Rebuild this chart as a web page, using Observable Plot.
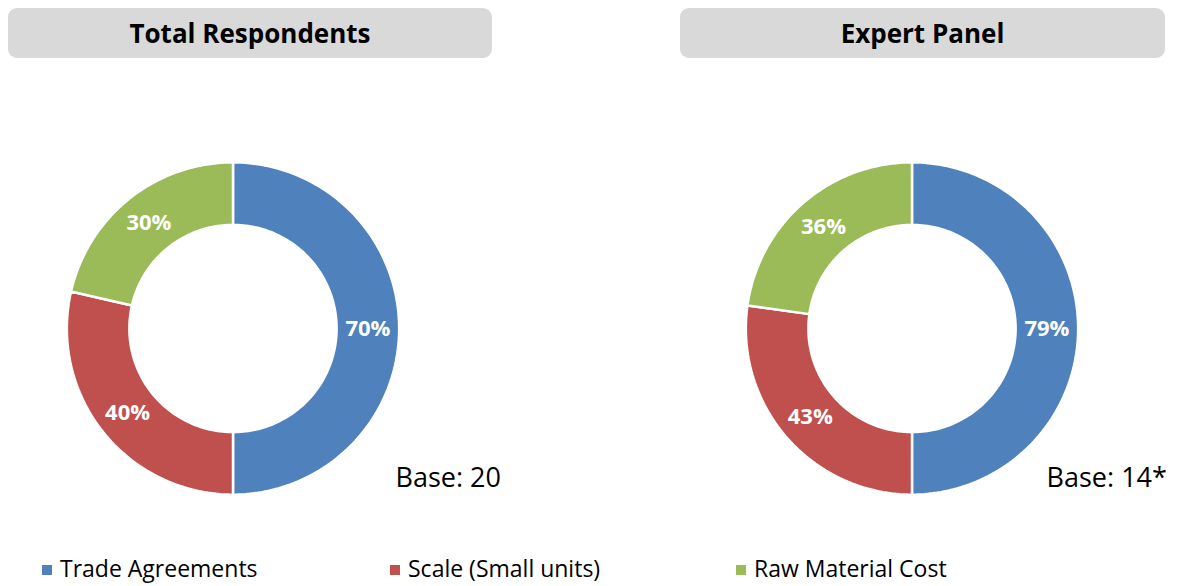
<!DOCTYPE html>
<html><head><meta charset="utf-8">
<script src="https://cdn.jsdelivr.net/npm/d3@7"></script>
<script src="https://cdn.jsdelivr.net/npm/@observablehq/plot@0.6"></script>
<style>
body{margin:0;background:#fff;font-family:"Open Sans",sans-serif;}
#wrap{position:relative;width:1180px;height:586px;overflow:hidden}
.hdr{position:absolute;top:8px;height:50px;background:#d9d9d9;border-radius:9px;display:flex;align-items:center;justify-content:center;font-weight:700;font-size:26px;color:#000}
#chart{position:absolute;top:66px;left:0}
#legend{position:absolute;top:556px;left:0;width:1180px;height:24px}
.li{position:absolute;top:0;height:24px;line-height:24px;display:flex;align-items:center;font-size:23px;color:#000}
.sw{width:10px;height:10px;margin-right:8px;margin-top:4px}
</style></head><body>
<div id="wrap"><div id="chart"></div><div id="legend"></div></div>
<script>
const categories = ["Trade Agreements", "Scale (Small units)", "Raw Material Cost"];
const panels = ["Total Respondents", "Expert Panel"];
const totalValues = [70, 40, 30];
const expertValues = [79, 43, 36];
const bases = ["Base: 20", "Base: 14*"];
const colors = ["#4f81bd", "#c0504d", "#9bbb59"];

const W = 1180, H = 474;
const K = 164.5;               // pixels per unit radius
const CX0 = 232.5, CY = 262;   // first donut centre in svg px
const GAP = 679 / K;           // distance between donut centres, in units
const R_OUT = 1.01, R_IN = 0.63;

const series = [totalValues, expertValues];
const pie = d3.pie().sort(null).value(d => d.value);

const polys = [], labels = [], baseLabels = [];
series.forEach((vals, p) => {
  const cx = p * GAP;
  const arcs = pie(vals.map((v, i) => ({value: v, cat: categories[i]})));
  arcs.forEach(a => {
    const key = panels[p] + "|" + a.data.cat;
    const n = Math.max(8, Math.ceil((a.endAngle - a.startAngle) * 40));
    for (let j = 0; j <= n; j++) {
      const t = a.startAngle + (a.endAngle - a.startAngle) * j / n;
      polys.push({key, cat: a.data.cat, x: cx + R_OUT * Math.sin(t), y: R_OUT * Math.cos(t)});
    }
    for (let j = n; j >= 0; j--) {
      const t = a.startAngle + (a.endAngle - a.startAngle) * j / n;
      polys.push({key, cat: a.data.cat, x: cx + R_IN * Math.sin(t), y: R_IN * Math.cos(t)});
    }
    const m = (a.startAngle + a.endAngle) / 2, rm = (R_OUT + R_IN) / 2;
    labels.push({x: cx + rm * Math.sin(m), y: rm * Math.cos(m), text: a.data.value + "%"});
  });
  baseLabels.push({x: cx + (p === 0 ? 0.988 : 0.818), y: -0.91, text: bases[p]});
});

const chart = Plot.plot({
  width: W, height: H,
  margin: 0,
  x: {domain: [-CX0 / K, (W - CX0) / K], axis: null},
  y: {domain: [-(H - CY) / K, CY / K], axis: null},
  color: {domain: categories, range: colors},
  style: {fontFamily: "'Open Sans', sans-serif", background: "white"},
  marks: [
    Plot.line(polys, {x: "x", y: "y", z: "key", fill: "cat", stroke: "white", strokeWidth: 2.5, curve: "linear-closed"}),
    Plot.text(labels, {x: "x", y: "y", text: "text", fill: "white", fontWeight: 700, fontSize: 22}),
    Plot.text(baseLabels, {x: "x", y: "y", text: "text", fill: "black", fontSize: 27, textAnchor: "start"})
  ]
});
document.getElementById("chart").appendChild(chart);

// headers
const hdrBoxes = [[8, 484], [680, 485]];
panels.forEach((t, i) => {
  const d = document.createElement("div");
  d.className = "hdr";
  d.style.left = hdrBoxes[i][0] + "px";
  d.style.width = hdrBoxes[i][1] + "px";
  d.textContent = t;
  document.getElementById("wrap").appendChild(d);
});
// legend
const legX = [42, 390, 736];
categories.forEach((c, i) => {
  const d = document.createElement("div");
  d.className = "li";
  d.style.left = legX[i] + "px";
  const s = document.createElement("span");
  s.className = "sw"; s.style.background = colors[i];
  d.appendChild(s);
  d.appendChild(document.createTextNode(c));
  document.getElementById("legend").appendChild(d);
});
</script>
</body></html>
